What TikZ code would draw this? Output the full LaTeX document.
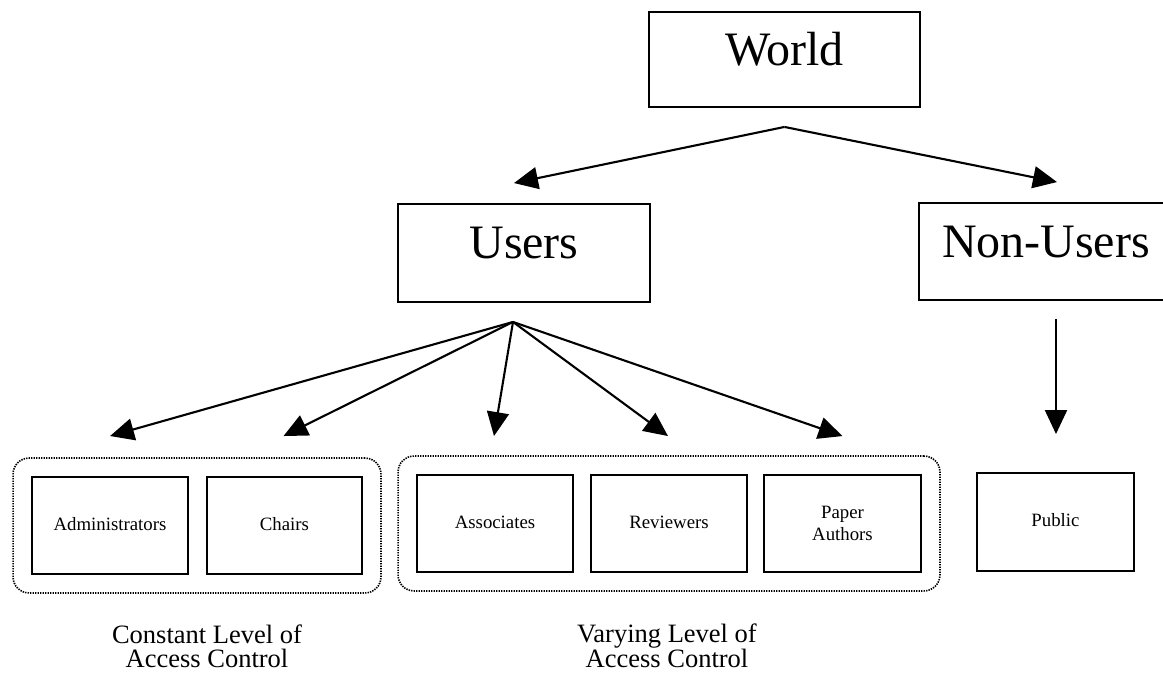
\documentclass[tikz,border=0pt]{standalone}
\usepackage{fontspec}
\setmainfont{Liberation Serif}
\usetikzlibrary{arrows.meta,calc,fit}

\begin{document}
\begin{tikzpicture}[x=1pt,y=-1pt,
  bigbox/.style={draw,line width=1.9pt,inner sep=0pt,
    font=\fontsize{48}{50}\selectfont,text height=32pt,text depth=20pt},
  smallbox/.style={draw,line width=1.9pt,inner sep=0pt,
    minimum width=156pt,minimum height=97pt,
    font=\fontsize{18.8}{22}\selectfont,align=center},
  oneline/.style={text height=12.5pt,text depth=3.5pt},
  group/.style={draw,line width=1.6pt,dash pattern=on 1.4pt off 1.1pt,
    rounded corners=16pt,inner sep=18pt},
  link/.style={line width=2.1pt,-{Triangle[length=24pt,width=22pt]}},
  caption/.style={font=\fontsize{26.5}{24}\selectfont,align=center,inner sep=0pt}]

\useasboundingbox (0,0) rectangle (1163,676);

% top level
\node[bigbox,minimum width=271pt,minimum height=95pt] (world) at (784.5,59.5) {World};
\node[bigbox,minimum width=252pt,minimum height=98pt] (users) at (524,253) {Users};
\node[bigbox,minimum width=254pt,minimum height=97pt] (nonusers) at (1046,251.5) {Non-Users};

% user roles
\node[smallbox,oneline] (admin) at (110,525.5) {Administrators};
\node[smallbox,oneline,minimum width=155pt] (chairs) at (284.5,525.5) {Chairs};
\node[smallbox,oneline] (assoc) at (495,523.5) {Associates};
\node[smallbox,oneline] (reviewers) at (669,523.5) {Reviewers};
\node[smallbox,minimum width=157pt] (paper) at (842.5,523.5) {Paper\\Authors};
\node[smallbox,oneline,minimum width=157pt,minimum height=98pt] (public) at (1055.5,522) {Public};

% role groups
\node[group,fit=(admin)(chairs)] (constgrp) {};
\node[group,fit=(assoc)(reviewers)(paper)] (vargrp) {};

% connector ends
\coordinate (wapex) at ($(world.south)+(0,19)$);
\coordinate (uapex) at ($(users.south)+(-11,19)$);
\coordinate (nstart) at ($(nonusers.south)+(10,18)$);
\coordinate (tusers) at ($(users.north)+(-10,-20)$);
\coordinate (tnon) at ($(nonusers.north)+(11,-20)$);
\coordinate (tadmin) at ($(admin.north)+(0,-40)$);
\coordinate (tchairs) at ($(chairs.north)+(-1,-40)$);
\coordinate (tassoc) at ($(assoc.north)+(-1,-38)$);
\coordinate (trev) at ($(reviewers.north)+(-1,-38)$);
\coordinate (tpaper) at ($(paper.north)+(0,-38)$);
\coordinate (tpublic) at ($(public.north)+(0.5,-38)$);

\draw[link] (wapex) -- (tusers);
\draw[link] (wapex) -- (tnon);
\draw[link] (uapex) -- (tadmin);
\draw[link] (uapex) -- (tchairs);
\draw[link] (uapex) -- (tassoc);
\draw[link] (uapex) -- (trev);
\draw[link] (uapex) -- (tpaper);
\draw[link] (nstart) -- (tpublic);

% captions
\node[caption] (constlbl) at (207,646) {Constant Level of\\Access Control};
\node[caption] (varlbl) at (667,646) {Varying Level of\\Access Control};
\end{tikzpicture}
\end{document}
